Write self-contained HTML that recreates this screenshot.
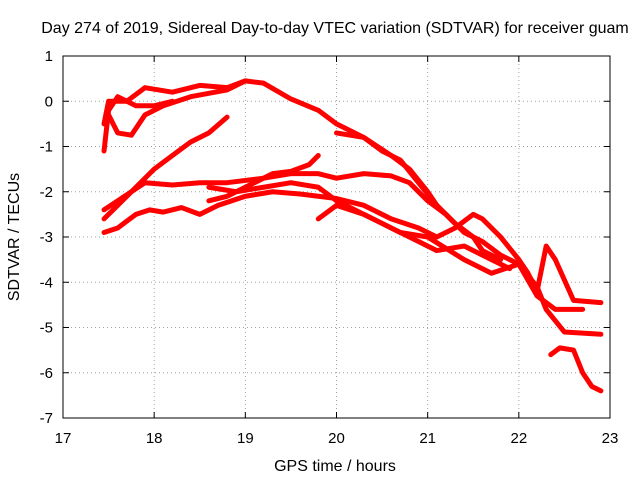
<!DOCTYPE html>
<html><head><meta charset="utf-8"><style>
body{margin:0;background:#fff}
svg{display:block;font-family:"Liberation Sans",sans-serif}
</style></head><body>
<svg id="chart" width="640" height="480">
<text x="335" y="33" text-anchor="middle" font-size="16">Day 274 of 2019, Sidereal Day-to-day VTEC variation (SDTVAR) for receiver guam</text>
<text x="335" y="471" text-anchor="middle" font-size="16">GPS time / hours</text>
<text x="19" y="237" text-anchor="middle" font-size="16" transform="rotate(-90 19 237)">SDTVAR / TECUs</text>
<g id="grid"></g>
<g id="ticks"></g>
<g id="series"></g>
<rect x="63" y="56" width="547" height="362" fill="none" stroke="#000" stroke-width="1"/>
</svg>
<script>
const xTicks=[17,18,19,20,21,22,23];
const yTicks=[1,0,-1,-2,-3,-4,-5,-6,-7];
const trackA=[[17.45,-0.5],[17.5,0],[17.7,0],[17.9,0.3],[18.2,0.2],[18.5,0.35],[18.8,0.3],[19.0,0.45],[19.2,0.4],[19.5,0.05],[19.8,-0.2],[20.0,-0.5],[20.3,-0.8],[20.6,-1.2],[20.8,-1.5],[21.0,-2.0],[21.1,-2.3]];
const trackB=[[17.5,-0.3],[17.6,-0.7],[17.75,-0.75],[17.9,-0.3],[18.1,-0.1],[18.4,0.1],[18.8,0.25],[19.0,0.45]];
const trackC=[[17.45,-1.1],[17.5,-0.2],[17.6,0.1],[17.8,-0.1],[18.0,-0.1],[18.2,0]];
const trackD=[[17.45,-2.6],[17.6,-2.3],[17.8,-1.9],[18.0,-1.5],[18.2,-1.2],[18.4,-0.9],[18.6,-0.7],[18.8,-0.35]];
const trackE=[[17.45,-2.4],[17.6,-2.2],[17.9,-1.8],[18.2,-1.85],[18.5,-1.8],[18.8,-1.8],[19.2,-1.7],[19.5,-1.6],[19.8,-1.6],[20.0,-1.7],[20.3,-1.6],[20.6,-1.65],[20.8,-1.8],[21.0,-2.2],[21.2,-2.5],[21.4,-2.9],[21.6,-3.1],[21.8,-3.4],[22.0,-3.6],[22.2,-4.1],[22.3,-4.6],[22.5,-5.1],[22.9,-5.15]];
const trackF=[[17.45,-2.9],[17.6,-2.8],[17.8,-2.5],[17.95,-2.4],[18.1,-2.45],[18.3,-2.35],[18.5,-2.5],[18.7,-2.3],[19.0,-2.1],[19.3,-2.0],[19.6,-2.05],[20.0,-2.15],[20.3,-2.3],[20.6,-2.6],[20.9,-2.8],[21.1,-3.0],[21.3,-2.8],[21.5,-2.5],[21.6,-2.6],[21.8,-3.0],[22.0,-3.5],[22.1,-3.8],[22.2,-4.2],[22.3,-3.2],[22.4,-3.5],[22.6,-4.4],[22.9,-4.45]];
const trackG=[[18.6,-2.2],[18.8,-2.1],[19.0,-1.9],[19.3,-1.6],[19.5,-1.55],[19.7,-1.4],[19.8,-1.2]];
const trackH=[[18.6,-1.9],[18.9,-2.0],[19.2,-1.9],[19.5,-1.8],[19.8,-1.9],[20.0,-2.2],[20.3,-2.5],[20.6,-2.8],[20.9,-3.1],[21.1,-3.3],[21.4,-3.2],[21.7,-3.5],[21.9,-3.7]];
const trackI=[[19.8,-2.6],[20.0,-2.3],[20.3,-2.5],[20.7,-2.9],[21.0,-3.0],[21.4,-3.5],[21.7,-3.8],[22.0,-3.6],[22.2,-4.3],[22.4,-4.6],[22.7,-4.6]];
const trackK=[[22.35,-5.6],[22.45,-5.45],[22.6,-5.5],[22.7,-6.0],[22.8,-6.3],[22.9,-6.4]];
const trackL=[[20.0,-0.7],[20.3,-0.8],[20.5,-1.1],[20.7,-1.3],[20.9,-1.8],[21.1,-2.3],[21.3,-2.7],[21.5,-3.0],[21.6,-3.3],[21.8,-3.5]];
const tracks=[trackA,trackB,trackC,trackD,trackE,trackF,trackG,trackH,trackI,trackK,trackL];
const X0=63,X1=610,Y0=418,Y1=56;
function sx(v){return X0+(v-17)/6*(X1-X0);}
function sy(v){return Y0-(v+7)/8*(Y0-Y1);}
const NS="http://www.w3.org/2000/svg";
const grid=document.getElementById('grid'),ticks=document.getElementById('ticks'),series=document.getElementById('series');
function mk(t,a,p){const e=document.createElementNS(NS,t);for(const k in a)e.setAttribute(k,a[k]);p.appendChild(e);return e;}
xTicks.forEach(v=>{const x=sx(v);
 if(v>17&&v<23){const g=mk('line',{x1:x,x2:x,y1:Y1,y2:Y0,stroke:'#a0a0a0','stroke-dasharray':'1,3'},grid);
 
 }
 mk('line',{x1:x,x2:x,y1:Y0,y2:Y0-6,stroke:'#000'},ticks);mk('line',{x1:x,x2:x,y1:Y1,y2:Y1+6,stroke:'#000'},ticks);
 const t=mk('text',{x:x,y:Y0+25,'text-anchor':'middle','font-size':15},ticks);t.textContent=v;
 
 });
yTicks.forEach(v=>{const y=sy(v);
 if(v>-7&&v<1){const g=mk('line',{x1:X0,x2:X1,y1:y,y2:y,stroke:'#a0a0a0','stroke-dasharray':'1,3'},grid);
 
 }
 mk('line',{x1:X0,x2:X0+6,y1:y,y2:y,stroke:'#000'},ticks);mk('line',{x1:X1,x2:X1-6,y1:y,y2:y,stroke:'#000'},ticks);
 const t=mk('text',{x:X0-10,y:y+5,'text-anchor':'end','font-size':15},ticks);t.textContent=v;
 
 });
tracks.forEach(tr=>{const p=mk('polyline',{points:tr.map(d=>sx(d[0])+','+sy(d[1])).join(' '),fill:'none',stroke:'#ff0000','stroke-width':5,'stroke-linejoin':'round','stroke-linecap':'round'},series);
 
 });
</script>
</body></html>
